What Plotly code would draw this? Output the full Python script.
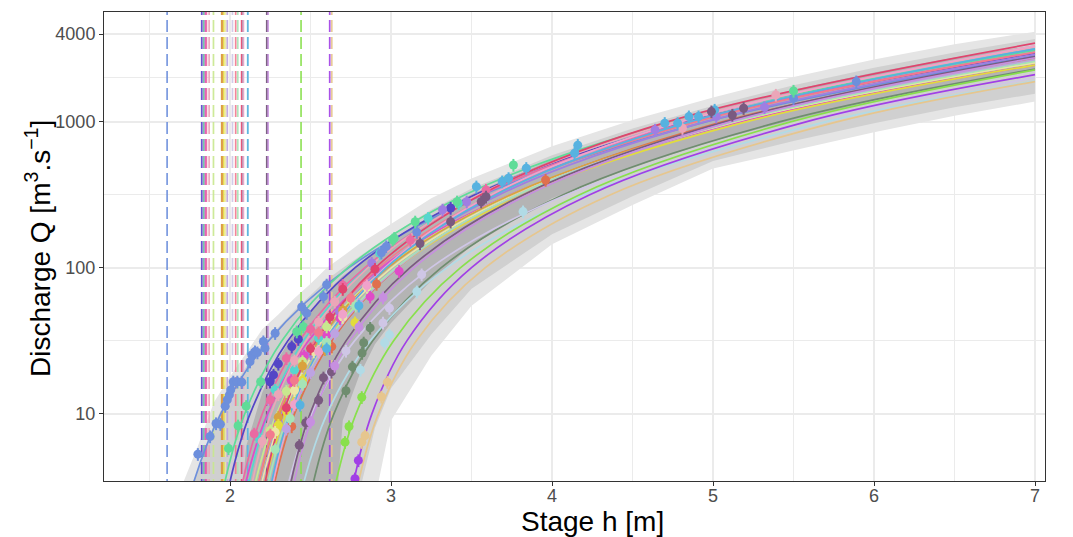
import math
import plotly.graph_objects as go

# ---------------- data ----------------
# discharge levels (m3/s) at which each rating curve's stage was read
Q_LEVELS = [1, 3.162, 10, 31.62, 100, 316.2, 1000]
H_END = 7.0

PERIOD_COLORS = [
    "#e0704e", "#6f8d6f", "#b1dbe6", "#56d6cf",            # curves whose offset lines are hidden
    "#6d8fdc", "#5446c6", "#a07ee2", "#5fdc98", "#e04bc8", "#ea6aa2",
    "#eba6b8", "#c8e88e", "#d9a23e", "#e2dc3c", "#ece6a6", "#bda3e2",
    "#cfc6e6", "#f27a8e", "#a6e4b6", "#e0446e", "#f0a2ca", "#57b2e0",
    "#7a5a80", "#c78fe0", "#88e04c", "#a13fe6", "#e6c68e",
]

# activation stage b of each period (dashed vertical lines)
PERIOD_B = [
    1.950, 2.230, 2.110, 2.080,
    1.609, 1.824, 1.832, 1.838, 1.847, 1.853,
    1.870, 1.897, 1.948, 1.961, 1.973, 1.983,
    2.015, 2.035, 2.048, 2.072, 2.083, 2.110,
    2.228, 2.236, 2.441, 2.619, 2.632,
]

# stage (m) where each median rating curve reaches the discharges in Q_LEVELS
CURVE_STAGES = [
    [2.198, 2.271, 2.400, 2.630, 3.039, 3.765, 5.057],
    [2.435, 2.511, 2.645, 2.885, 3.310, 4.066, 5.412],
    [2.367, 2.451, 2.602, 2.870, 3.346, 4.192, 5.698],
    [2.042, 2.112, 2.235, 2.455, 2.845, 3.539, 4.774],
    [1.658, 1.765, 1.942, 2.239, 2.736, 3.567, 4.955],
    [1.917, 1.992, 2.124, 2.358, 2.775, 3.517, 4.837],
    [2.119, 2.191, 2.319, 2.546, 2.951, 3.669, 4.947],
    [1.889, 1.961, 2.091, 2.321, 2.730, 3.457, 4.751],
    [2.011, 2.091, 2.233, 2.486, 2.937, 3.737, 5.160],
    [1.999, 2.071, 2.200, 2.429, 2.836, 3.560, 4.847],
    [2.063, 2.132, 2.254, 2.471, 2.856, 3.542, 4.762],
    [2.074, 2.151, 2.289, 2.533, 2.969, 3.743, 5.121],
    [2.095, 2.172, 2.307, 2.549, 2.978, 3.742, 5.099],
    [2.132, 2.211, 2.349, 2.596, 3.036, 3.817, 5.205],
    [2.114, 2.191, 2.327, 2.570, 3.002, 3.770, 5.136],
    [2.177, 2.251, 2.383, 2.619, 3.037, 3.781, 5.103],
    [2.273, 2.357, 2.507, 2.773, 3.246, 4.087, 5.583],
    [2.101, 2.172, 2.298, 2.523, 2.921, 3.630, 4.891],
    [2.156, 2.231, 2.365, 2.604, 3.028, 3.782, 5.123],
    [2.147, 2.212, 2.328, 2.535, 2.902, 3.555, 4.717],
    [2.196, 2.262, 2.380, 2.589, 2.960, 3.621, 4.796],
    [2.184, 2.252, 2.373, 2.587, 2.969, 3.647, 4.853],
    [2.302, 2.372, 2.497, 2.720, 3.116, 3.820, 5.073],
    [2.321, 2.392, 2.518, 2.742, 3.140, 3.847, 5.106],
    [2.577, 2.651, 2.782, 3.015, 3.430, 4.168, 5.481],
    [2.697, 2.762, 2.881, 3.098, 3.498, 4.231, 5.577],
    [2.720, 2.791, 2.921, 3.156, 3.584, 4.360, 5.769],
]
# discharge of each median curve at H_END
CURVE_Q_END = [
    2750, 2300, 1900, 3200,
    2830, 2950, 2900, 3100, 2450, 3000,
    3250, 2550, 2600, 2450, 2550, 2650,
    2000, 3000, 2600, 3460, 3316, 3165,
    2800, 2750, 2270, 2105, 1890,
]

# gaugings (stage m, discharge m3/s) per period
OBS_H = [
    [2.383, 2.632, 2.91, 3.96],
    [2.72, 2.76, 2.82, 2.83, 2.87],
    [2.81, 2.96, 2.99, 3.16, 3.82],
    [2.166, 2.28, 2.4, 2.55, 2.93, 3.23, 3.42],
    [1.80, 1.876, 1.913, 1.94, 1.97, 1.983, 1.996, 2.004, 2.02, 2.045, 2.073, 2.124, 2.135,
     2.155, 2.17, 2.207, 2.217, 2.28, 2.445, 2.476, 2.58, 2.60, 2.94, 2.97, 3.16, 5.50, 5.89],
    [2.248, 2.27, 2.30, 2.383, 2.424, 3.37],
    [2.30, 2.50, 2.68, 2.88, 3.32, 3.47, 4.64, 5.02, 5.32],
    [1.99, 2.05, 2.10, 2.19, 2.414, 2.455, 3.01, 3.02, 3.15, 3.41, 3.76, 5.50],
    [2.38, 2.46, 2.60, 2.683, 2.87, 3.05],
    [2.15, 2.25, 2.35, 2.5, 2.7, 3.12, 3.59],
    [2.2, 2.3, 2.4, 2.55, 2.65, 4.81, 5.39],
    [2.25, 2.35, 2.45, 2.6, 2.75],
    [2.3, 2.45, 2.59, 2.7],
    [2.30, 2.352, 2.45, 2.6, 2.776],
    [2.28, 2.4, 2.52, 2.7, 2.85],
    [2.35, 2.5, 2.65, 2.8],
    [2.62, 2.72, 2.95, 2.99, 3.19],
    [2.25, 2.4, 2.55, 2.75],
    [2.28, 2.373, 2.45, 2.6, 2.78],
    [2.35, 2.5, 2.62, 2.70, 2.9],
    [2.4, 2.55, 2.7, 2.85],
    [2.435, 2.6, 2.8, 3.53, 3.69, 3.73, 3.84, 4.14, 4.16, 4.70, 4.78, 4.85, 4.91, 5.01],
    [2.43, 2.47, 2.55, 2.58, 2.63, 3.18, 3.37, 3.56, 3.59, 4.99, 5.12, 5.19],
    [2.5, 2.65, 2.8, 2.95],
    [2.714, 2.739, 2.818],
    [2.776, 2.797],
    [2.818, 2.839, 2.94, 2.977],
]
OBS_Q = [
    [8.2, 28.9, 77.6, 400],
    [14.4, 21, 26.1, 30.7, 38.8],
    [20, 30.7, 34.8, 68.8, 243],
    [7, 14.6, 20, 33, 126, 219, 277],
    [5.3, 7.0, 8.6, 8.5, 11.3, 12.5, 13.5, 14.6, 16.6, 16.6, 16.5, 22.8, 25.3,
     26.7, 26.3, 31.3, 28.2, 35.7, 54, 49, 63.5, 76.6, 127, 140, 176, 1452, 1888],
    [16.6, 18.5, 22, 28.9, 32.5, 257],
    [8.7, 26, 50, 108, 250, 284, 881, 1087, 1260],
    [5.8, 8.3, 11.3, 16.6, 36.6, 39.6, 156, 160, 207, 284, 507, 1630],
    [17, 25, 34.7, 45.2, 63.5, 95],
    [7.3, 12.5, 24, 38, 76, 155, 342],
    [6.5, 13.6, 23.2, 42.6, 58.6, 906, 1530],
    [7.7, 14.3, 22.9, 39.6, 60.8],
    [9.5, 21.3, 27.7, 51.3],
    [8.4, 10.3, 17, 30, 42.2],
    [7.5, 14.5, 26.7, 46, 74],
    [7.9, 19.2, 35.5, 56.6],
    [19, 27, 42, 53, 90],
    [7.2, 17, 36, 62],
    [5.7, 9.3, 16, 31, 55],
    [11, 28, 46, 71.5, 98],
    [11.6, 26.7, 48.1, 75.8],
    [11.5, 28, 55, 360, 390, 411, 482, 611, 693, 980, 980, 1087, 1087, 1208],
    [6.1, 8.7, 12.4, 17.7, 19.4, 147, 207, 284, 307, 1177, 1116, 1241],
    [8.8, 21.3, 39.3, 62.6],
    [6.4, 8.2, 13.0],
    [3.6, 4.8],
    [6.4, 7.1, 13.1, 16.5],
]

# uncertainty envelopes (union of period bands)
BAND_STAGE = [1.70, 1.80, 1.90, 2.00, 2.10, 2.20, 2.30, 2.40, 2.50, 2.60, 2.70, 2.80,
              2.90, 3.00, 3.25, 3.50, 4.00, 4.50, 5.00, 5.50, 6.00, 6.50, 7.00]
OUTER_HIGH = [3.2, 6.0, 12, 18, 26, 38, 48, 62, 78, 100, 120, 145,
              170, 200, 300, 410, 680, 1030, 1470, 2030, 2680, 3400, 4150]
OUTER_LOW = [0.3, 0.3, 0.3, 0.3, 0.3, 0.3, 0.3, 0.3, 0.3, 0.3, 0.3, 0.5,
             2.6, 9, 25, 55, 145, 270, 480, 640, 850, 1100, 1380]
MID_HIGH = [2.0, 4.2, 8.5, 14, 21, 30, 39, 51, 65, 83, 100, 120,
            142, 168, 250, 350, 590, 900, 1290, 1780, 2350, 2990, 3700]
MID_LOW = [0.2, 0.2, 0.2, 0.2, 0.2, 0.2, 0.2, 0.2, 0.2, 0.2, 0.2, 2.8,
           8, 15, 35, 72, 170, 310, 540, 740, 980, 1260, 1560]
INNER_HIGH = [0.3, 0.3, 0.3, 0.3, 6, 14, 24, 36, 50, 68, 88, 106,
              126, 150, 225, 320, 550, 850, 1210, 1660, 2180, 2760, 3350]
INNER_LOW = [0.3, 0.3, 0.3, 0.3, 0.3, 0.3, 0.3, 0.3, 0.3, 0.3, 9, 18,
             30, 42, 82, 142, 300, 490, 740, 1030, 1390, 1800, 2250]

X_TICKS = [2, 3, 4, 5, 6, 7]
X_MINOR = [1.5, 2.5, 3.5, 4.5, 5.5, 6.5]
Y_TICKS = [10, 100, 1000, 4000]
Y_MINOR = [31.62, 316.2, 2000]
X_RANGE = [1.217, 7.062]
Q_AXIS_MIN, Q_AXIS_MAX = 3.47, 5660

X_TITLE = "Stage h [m]"
Y_TITLE = "Discharge Q [m<sup>3</sup>.s<sup>−1</sup>]"

# ---------------- figure ----------------
fig = go.Figure()

def band(low, high, color):
    fig.add_trace(go.Scatter(
        x=BAND_STAGE + BAND_STAGE[::-1], y=high + low[::-1],
        mode="lines", fill="toself", fillcolor=color,
        line=dict(width=0),
        hoverinfo="skip", showlegend=False))

band(OUTER_LOW, OUTER_HIGH, "#e5e5e5")
band(MID_LOW, MID_HIGH, "#d0d0d0")
band(INNER_LOW, INNER_HIGH, "#b4b4b4")

# dashed activation-stage lines
for b, col in zip(PERIOD_B, PERIOD_COLORS):
    fig.add_trace(go.Scatter(
        x=[b, b], y=[Q_AXIS_MIN * 0.5, Q_AXIS_MAX * 2], mode="lines",
        line=dict(color=col, width=1.7, dash="12px,5px"), opacity=0.9,
        hoverinfo="skip", showlegend=False))

# median rating curves
for st, qend, col in zip(CURVE_STAGES, CURVE_Q_END, PERIOD_COLORS):
    fig.add_trace(go.Scatter(
        x=st + [H_END], y=Q_LEVELS + [qend], mode="lines",
        line=dict(color=col, width=1.7, shape="spline", smoothing=1.0),
        hoverinfo="skip", showlegend=False))

# gaugings
for hh, qq, col in zip(OBS_H, OBS_Q, PERIOD_COLORS):
    fig.add_trace(go.Scatter(
        x=hh, y=qq, mode="markers",
        marker=dict(color=col, size=9, line=dict(width=0)),
        error_y=dict(type="percent", value=10, color=col, thickness=2, width=0),
        showlegend=False))

axis_common = dict(
    showline=True, mirror=True, linecolor="#333333", linewidth=1,
    ticks="outside", ticklen=4, tickcolor="#333333", tickwidth=1,
    tickfont=dict(size=18, color="#4d4d4d"),
    showgrid=True, gridcolor="#ebebeb", gridwidth=1.6, zeroline=False,
    automargin=False,
)

fig.update_xaxes(
    range=X_RANGE, tickmode="array", tickvals=X_TICKS, ticklabelstandoff=-6,
    minor=dict(tickvals=X_MINOR, showgrid=True, gridcolor="#ebebeb", gridwidth=0.8, ticklen=0),
    **axis_common)
fig.update_yaxes(
    type="log", range=[math.log10(Q_AXIS_MIN), math.log10(Q_AXIS_MAX)],
    tickmode="array", tickvals=Y_TICKS, ticktext=[str(v) for v in Y_TICKS],
    minor=dict(tickvals=Y_MINOR, showgrid=True, gridcolor="#ebebeb", gridwidth=0.8, ticklen=0),
    **axis_common)

# axis titles placed as paper-anchored text
fig.add_annotation(text=X_TITLE, xref="paper", yref="paper", x=0.5186, y=-0.0853,
                   xanchor="center", yanchor="middle", showarrow=False,
                   font=dict(size=28, color="black"))
fig.add_annotation(text=Y_TITLE, xref="paper", yref="paper", x=-0.0701, y=0.4947,
                   xanchor="center", yanchor="middle", showarrow=False, textangle=-90,
                   font=dict(size=28, color="black"))

fig.update_layout(
    width=1073, height=537,
    margin=dict(l=104, r=28, t=12, b=56),
    plot_bgcolor="white", paper_bgcolor="white",
    font=dict(family="Liberation Sans, Arial, sans-serif"),
    showlegend=False,
)

# remove the browser's default 8px body margin so the figure fills the window exactly
fig.write_html("out.html", config={"displayModeBar": False},
               post_script="document.body.style.margin='0';document.body.style.overflow='hidden';")
